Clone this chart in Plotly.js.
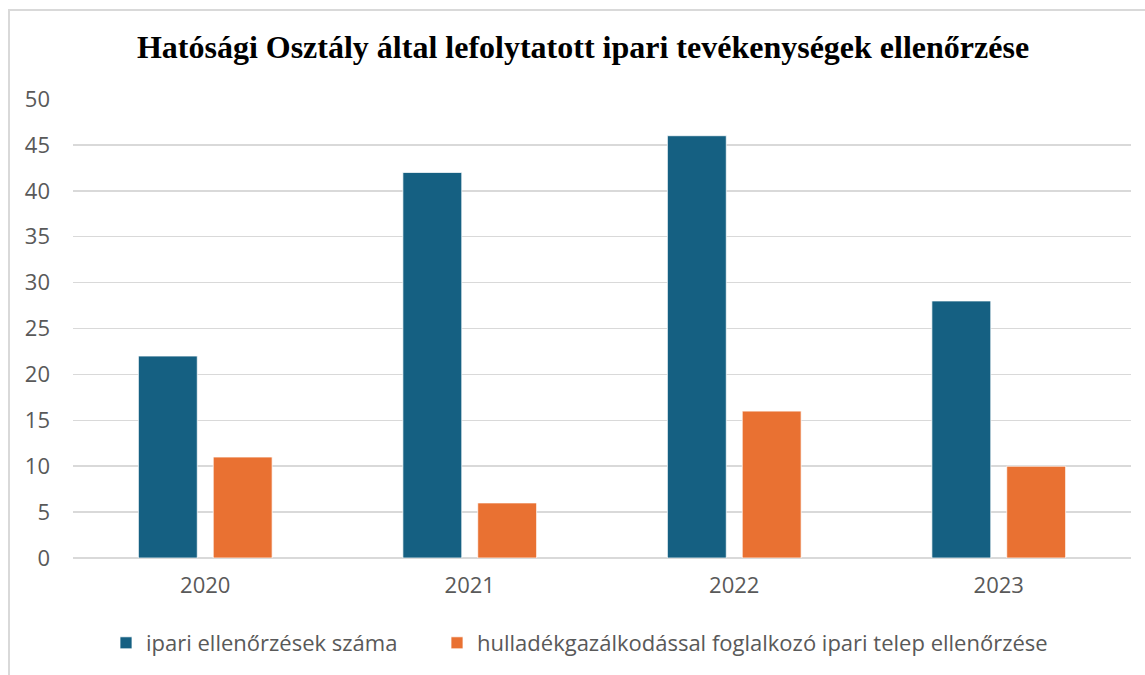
<!DOCTYPE html>
<html>
<head>
<meta charset="utf-8">
<script src="https://cdn.plot.ly/plotly-3.0.1.min.js"></script>
<style>
  html, body { margin: 0; padding: 0; background: #fff; overflow: hidden; }
  #chart { position: absolute; left: 0; top: 0; width: 1145px; height: 675px; }
  #frame { position: absolute; left: 8px; top: 9px; width: 1200px; height: 700px; border: 2px solid #d9d9d9; box-sizing: border-box; pointer-events: none; }
</style>
</head>
<body>
<div id="chart"></div>
<div id="frame"></div>
<script>
const years = ['2020', '2021', '2022', '2023'];
const ipariEllenorzesek = [22, 42, 46, 28];
const hulladekTelep = [11, 6, 16, 10];
const seriesNames = ['ipari ellenőrzések száma', 'hulladékgazálkodással foglalkozó ipari telep ellenőrzése'];
const titleText = 'Hatósági Osztály által lefolytatott ipari tevékenységek ellenőrzése';
const yTicks = [0, 5, 10, 15, 20, 25, 30, 35, 40, 45, 50];

const font = 'Open Sans, Lato, Liberation Sans, sans-serif';

const data = [
  {
    type: 'bar', x: years, y: ipariEllenorzesek, name: seriesNames[0], legend: 'legend',
    marker: { color: '#156082', line: { color: '#ffffff', width: 0.75 } },
    hoverinfo: 'none'
  },
  {
    type: 'bar', x: years, y: hulladekTelep, name: seriesNames[1], legend: 'legend2',
    marker: { color: '#E97132', line: { color: '#ffffff', width: 0.75 } },
    hoverinfo: 'none'
  }
];

const legendY = (559 - 643) / 460;
const legendFont = { family: font, size: 22, color: '#595959' };

const layout = {
  width: 1145, height: 675,
  margin: { l: 73, r: 14, t: 99, b: 116 },
  paper_bgcolor: 'rgba(0,0,0,0)', plot_bgcolor: '#ffffff',
  title: {
    text: '<b>' + titleText + '</b>',
    font: { family: 'Liberation Serif, Times New Roman, serif', size: 32, color: '#000000' },
    x: 583 / 1145, xanchor: 'center', xref: 'container',
    y: 1 - 47 / 675, yanchor: 'middle', yref: 'container'
  },
  barmode: 'group', bargap: 0.434, bargroupgap: 0.213,
  xaxis: {
    type: 'category', tickfont: { family: font, size: 22, color: '#595959' },
    showgrid: false, zeroline: false, showline: false, ticks: '',
    ticklabelstandoff: 12
  },
  yaxis: {
    range: [0, 50], tickvals: yTicks, ticktext: yTicks.map(String),
    tickfont: { family: font, size: 22, color: '#595959' },
    showgrid: true, gridcolor: '#d9d9d9', gridwidth: 1.5,
    zeroline: true, zerolinecolor: '#d9d9d9', zerolinewidth: 1.5,
    showline: false, ticks: '', ticklabelstandoff: 22, fixedrange: true
  },
  legend: {
    orientation: 'h', x: 33 / 1058, xanchor: 'left', y: legendY, yanchor: 'middle',
    font: legendFont, bgcolor: 'rgba(0,0,0,0)'
  },
  legend2: {
    orientation: 'h', x: 364 / 1058, xanchor: 'left', y: legendY, yanchor: 'middle',
    font: legendFont, bgcolor: 'rgba(0,0,0,0)'
  },
  showlegend: true
};

Plotly.newPlot('chart', data, layout, { staticPlot: true, displayModeBar: false });
</script>
</body>
</html>
